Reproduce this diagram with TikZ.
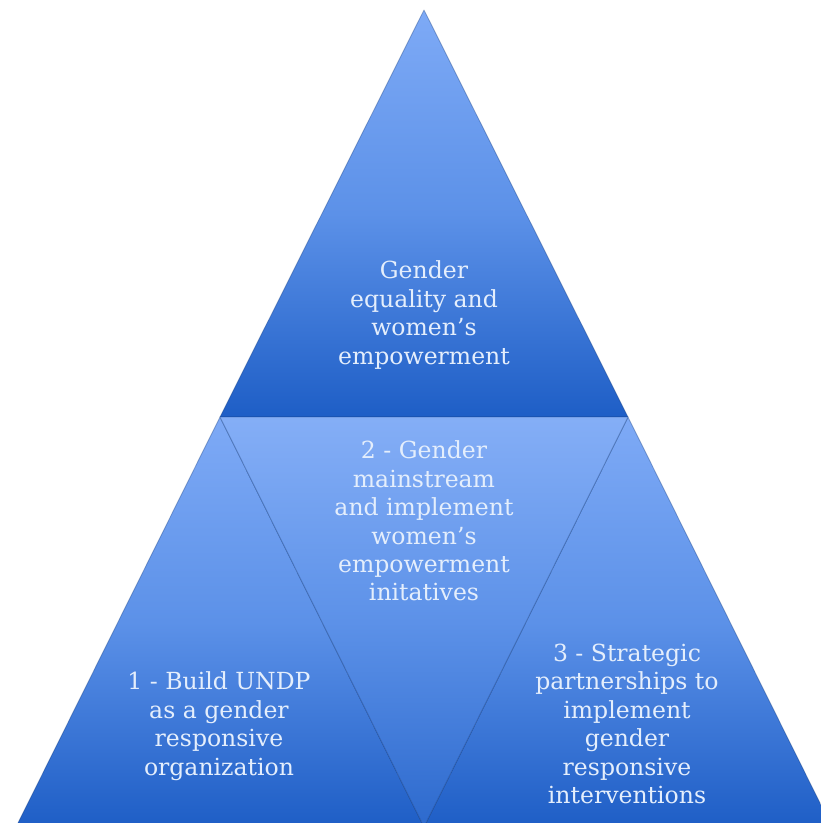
\documentclass[tikz,border=0pt]{standalone}
\usepackage{fontspec}
\setmainfont{DejaVu Serif}

\definecolor{pyrlight}{RGB}{126,170,246}
\definecolor{pyrmid}{RGB}{92,145,232}
\definecolor{pyrdark}{RGB}{30,94,198}
\definecolor{pyrtext}{RGB}{228,238,252}

\tikzset{
	piece/.style={top color=pyrlight, bottom color=pyrdark, middle color=pyrmid, draw=pyrdark!60!black, draw opacity=0.35, line width=0.5pt, line join=round},
	piecetext/.style={text=pyrtext, align=center, font=\fontsize{13.4}{16.2}\selectfont}
}

\begin{document}
\begin{tikzpicture}[x=0.02cm,y=-0.02cm]
	\useasboundingbox (0,0) rectangle (821,823);
	\clip (0,0) rectangle (821,823);

	% corners of the pyramid
	\coordinate (A) at (424,10);
	\coordinate (L) at (220,417);
	\coordinate (R) at (628,417);
	\coordinate (BL) at (16,827);
	\coordinate (BM) at (424,827);
	\coordinate (BR) at (832,827);

	% the four pieces
	\draw[piece] (A) -- (R) -- (L) -- cycle;
	\draw[piece] (L) -- (BM) -- (BL) -- cycle;
	\draw[piece] (R) -- (BR) -- (BM) -- cycle;
	\draw[piece, top color=pyrlight!95!white, bottom color=pyrdark!85!pyrlight, middle color=pyrmid] (L) -- (R) -- (BM) -- cycle;

	\node[piecetext] (goal) at (424,315) {Gender\\equality and\\women's\\empowerment};
	\node[piecetext] (two) at (424,521) {2 - Gender\\mainstream\\and implement\\women's\\empowerment\\initatives};
	\node[piecetext] (one) at (219,726) {1 - Build UNDP\\as a gender\\responsive\\organization};
	\node[piecetext] (three) at (627,724) {3 - Strategic\\partnerships to\\implement\\gender\\responsive\\interventions};
\end{tikzpicture}
\end{document}
